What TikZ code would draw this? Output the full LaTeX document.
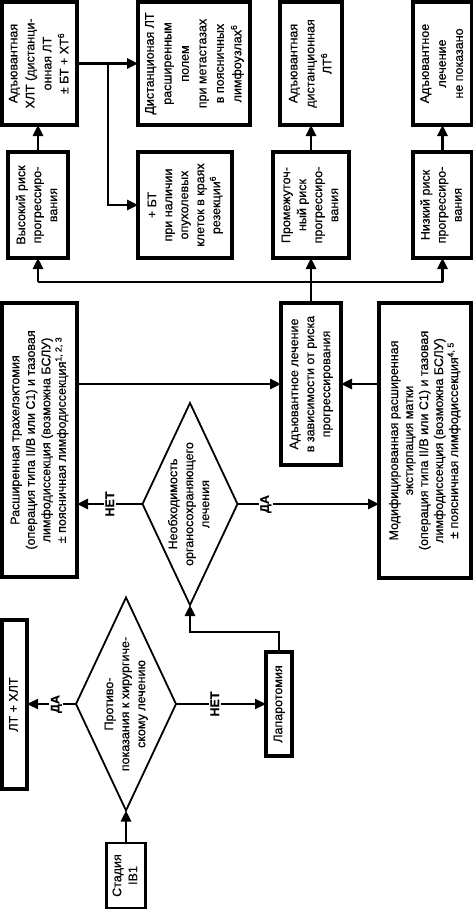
\documentclass[tikz,border=0pt]{standalone}
\usepackage{fontspec}
\setmainfont{Liberation Sans}[FakeBold=0.5]
\usetikzlibrary{shapes.geometric,arrows.meta,calc}
\newcommand\rtxt[2][16]{\rotatebox{90}{\fontsize{12.5}{#1}\selectfont\begin{tabular}{@{}c@{}}#2\end{tabular}}}
\begin{document}
\begin{tikzpicture}[x=1pt,y=-1pt,
  box/.style={draw, line width=3.2pt, inner sep=0pt, outer sep=0pt, align=center},
  dmd/.style={draw, diamond, line width=1.8pt, inner sep=0pt, outer sep=0pt},
  conn/.style={line width=2.8pt, -{Triangle[length=11pt,width=10pt]}},
  thinconn/.style={line width=2pt, -{Triangle[length=11pt,width=10pt]}},
  plain/.style={line width=2.8pt},
  lbl/.style={fill=white, inner sep=1.5pt, font=\bfseries\fontsize{12.5}{14}\selectfont, rotate=90}]
\useasboundingbox (0,0) rectangle (473,911);
% top row
\node[box, minimum width=75pt, minimum height=123pt] (A) at (39.5,63.5) {\rtxt[17]{Адъювантная\\ХЛТ (дистанци-\\онная ЛТ\\± БТ + ХТ\textsuperscript{6}}};
\node[box, minimum width=112pt, minimum height=123pt] (B) at (194,63.5) {\rtxt[17.5]{Дистанционая ЛТ\\расширенным\\полем\\при метастазах\\в поясничных\\лимфоузлах\textsuperscript{6}}};
\node[box, minimum width=62pt, minimum height=123pt] (C) at (311,63.5) {\rtxt[17]{Адъювантная\\дистанционная\\ЛТ\textsuperscript{6}}};
\node[box, minimum width=59pt, minimum height=123pt] (D) at (442.5,63.5) {\rtxt[17]{Адъювантное\\лечение\\не показано}};
% second row
\node[box, minimum width=60pt, minimum height=106pt] (E) at (38,205) {\rtxt{Высокий риск\\прогрессиро-\\вания}};
\node[box, minimum width=94pt, minimum height=106pt] (F) at (185,205) {\rtxt{+ БТ\\при наличии\\опухолевых\\клеток в краях\\резекции\textsuperscript{6}}};
\node[box, minimum width=76pt, minimum height=106pt] (G) at (311,205) {\rtxt{Промежуточ-\\ный риск\\прогрессиро-\\вания}};
\node[box, minimum width=59pt, minimum height=106pt] (H) at (442.5,205) {\rtxt{Низкий риск\\прогрессиро-\\вания}};
% middle row
\node[box, minimum width=75pt, minimum height=274pt] (J) at (39.5,440) {\rtxt[15.5]{Расширенная трахелэктомия\\(операция типа II/B или C1) и тазовая\\лимфодиссекция (возможна БСЛУ)\\± поясничная лимфодиссекция\textsuperscript{1, 2, 3}}};
\node[box, minimum width=60pt, minimum height=162pt] (I) at (311,384) {\rtxt{Адъювантное лечение\\в зависимости от риска\\прогрессирования}};
\node[box, minimum width=92pt, minimum height=275pt] (K) at (425,440.5) {\rtxt[15]{Модифицированная расширенная\\экстирпация матки\\(операция типа II/B или C1) и тазовая\\лимфодиссекция (возможна БСЛУ)\\± поясничная лимфодиссекция\textsuperscript{4, 5}}};
\node[dmd, minimum width=95pt, minimum height=202pt] (D1) at (190,504) {};
\node (D1t) at (D1) {\rtxt{Необходимость\\органосохраняющего\\лечения}};
% bottom
\node[box, minimum width=25pt, minimum height=169pt] (L) at (14.5,704.5) {\rtxt{ЛТ + ХЛТ}};
\node[dmd, minimum width=100pt, minimum height=213pt] (D2) at (126,704) {};
\node (D2t) at (D2) {\rtxt{Противо-\\показания к хирургиче-\\скому лечению}};
\node[box, minimum width=26pt, minimum height=104pt] (N) at (279,704) {\rtxt{Лапаротомия}};
\node[box, line width=2.6pt, minimum width=39pt, minimum height=65pt] (M) at (126,875.5) {\rtxt{Стадия\\IB1}};
% connectors top
\coordinate (br) at (108,63.5);
\draw[conn] (A.east) -- (B.west);
\draw[conn] (br) |- (F.west);
\draw[conn] (E.north) -- (E.north |- A.south);
\draw[conn] (G.north) -- (G.north |- C.south);
\draw[conn] (H.north) -- (D.south);
\coordinate (bus) at (0,282);
\draw[plain] (E.south |- bus) -- (H.south |- bus);
\draw[conn] (E.south |- bus) -- (E.south);
\draw[conn] (H.south |- bus) -- (H.south);
\draw[conn] (I.north) -- (G.south);
% middle connectors
\draw[conn] (J.east |- I.west) -- (I.west);
\draw[conn] (K.west |- I.east) -- (I.east);
\draw[conn] (D1.west) -- (D1.west -| J.east) node[lbl, pos=0.5] {НЕТ};
\draw[conn] (D1.east) -- (D1.east -| K.west) node[lbl, pos=0.2] {ДА};
% bottom connectors
\draw[conn] (M.north) -- (D2.south);
\draw[thinconn] (D2.west) -- (D2.west -| L.east) node[lbl, pos=0.4] {ДА};
\draw[thinconn] (D2.east) -- (D2.east -| N.west) node[lbl, pos=0.43] {НЕТ};
\coordinate (lp) at (0,632);
\draw[conn] (N.north) -- (N.north |- lp) -| (D1.south);
\end{tikzpicture}
\end{document}
